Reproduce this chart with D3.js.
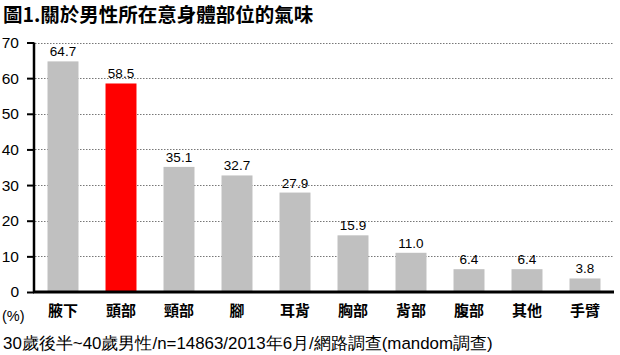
<!DOCTYPE html>
<html><head><meta charset="utf-8">
<script src="https://cdn.jsdelivr.net/npm/d3@7"></script>
<style>body{margin:0;background:#fff}svg{display:block}</style>
</head><body>
<script>
const categories = ["腋下","頭部","頸部","腳","耳背","胸部","背部","腹部","其他","手臂"];
const values = [64.7,58.5,35.1,32.7,27.9,15.9,11.0,6.4,6.4,3.8];
const valueLabels = ["64.7","58.5","35.1","32.7","27.9","15.9","11.0","6.4","6.4","3.8"];
const highlight = ["頭部"];
const yTicks = [0,10,20,30,40,50,60,70];
const title = "圖1.關於男性所在意身體部位的氣味";
const unit = "(%)";
const note = "30歲後半~40歲男性/n=14863/2013年6月/網路調查(mandom調查)";

const W=620,H=355;
const svg=d3.select("body").append("svg").attr("width",W).attr("height",H);
const cjk="'Noto Sans CJK TC','Noto Sans CJK JP',sans-serif";
const lat="'Liberation Sans',Arial,sans-serif";

const x=d3.scaleBand().domain(categories).range([34,614]).paddingInner(0.466).paddingOuter(0.233);
const y=d3.scaleLinear().domain([0,70]).range([292,42.5]);

svg.append("text").attr("x",3).attr("y",22).text(title)
  .attr("font-family",cjk).attr("font-weight","bold").attr("font-size",19.5).attr("fill","#000");

// gridlines
svg.append("g").selectAll("line").data(yTicks.filter(d=>d>0)).join("line")
  .attr("x1",35).attr("x2",614).attr("y1",d=>Math.round(y(d))+0.5).attr("y2",d=>Math.round(y(d))+0.5)
  .attr("stroke","#777").attr("stroke-width",1).attr("stroke-dasharray","1.5,1.5");

// bars
svg.append("g").selectAll("rect").data(categories).join("rect")
  .attr("x",d=>x(d)).attr("width",x.bandwidth())
  .attr("y",(d,i)=>y(values[i])).attr("height",(d,i)=>y(0)-y(values[i]))
  .attr("fill",d=>highlight.includes(d)?"#ff0000":"#c0c0c0");

// value labels
svg.append("g").selectAll("text").data(categories).join("text")
  .attr("x",d=>x(d)+x.bandwidth()/2).attr("y",(d,i)=>y(values[i])-5)
  .attr("text-anchor","middle").attr("font-family",lat).attr("font-size",13.5).attr("fill","#000")
  .text((d,i)=>valueLabels[i]);

// y axis
const ya=svg.append("g").attr("transform","translate(34,0)")
  .call(d3.axisLeft(y).tickValues(yTicks).tickSize(7).tickPadding(8).tickFormat(d3.format("d")));
ya.select(".domain").attr("stroke","#000").attr("stroke-width",2.5).attr("d","M0,42.5V292");
ya.selectAll(".tick line").attr("stroke","#000").attr("stroke-width",2);
ya.selectAll(".tick text").attr("font-family",lat).attr("font-size",15.5).attr("fill","#000");

// x axis
const xa=svg.append("g").attr("transform","translate(0,292)")
  .call(d3.axisBottom(x).tickSize(0).tickPadding(13));
xa.select(".domain").attr("stroke","#000").attr("stroke-width",3).attr("d","M33,0H614");
xa.selectAll(".tick text").attr("font-family",cjk).attr("font-weight","bold").attr("font-size",15).attr("fill","#000");

svg.append("text").attr("x",2).attr("y",321).text(unit)
  .attr("font-family",lat).attr("font-size",14.5).attr("fill","#000");
svg.append("text").attr("x",3).attr("y",349).text(note)
  .attr("font-family",lat).attr("font-size",16.9).attr("fill","#000");
</script>
</body></html>
